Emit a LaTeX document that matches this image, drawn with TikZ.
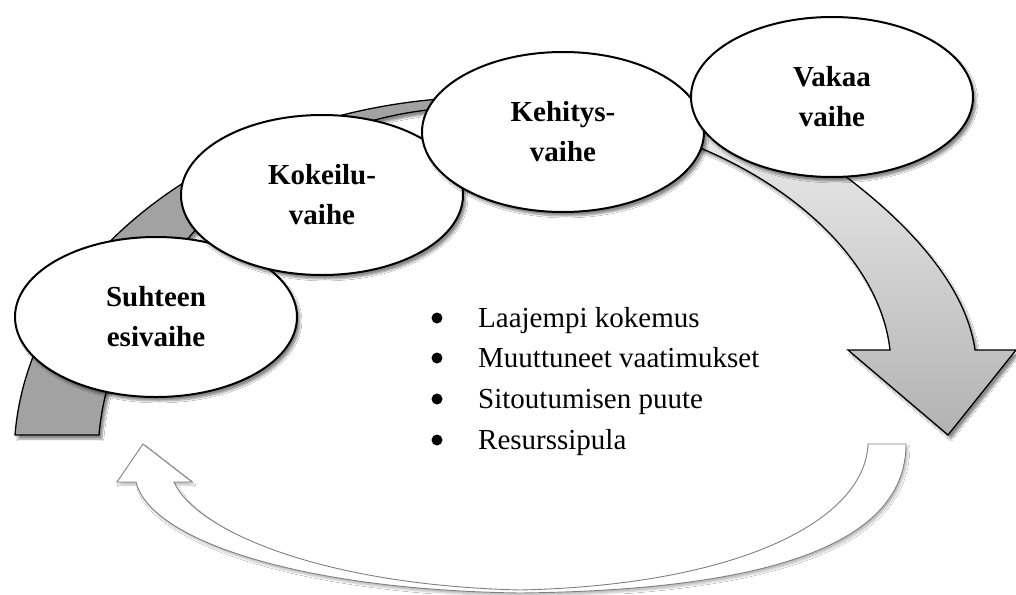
\documentclass[tikz,border=0pt]{standalone}
\usepackage{fontspec}
\setmainfont{Liberation Serif}
\usetikzlibrary{shapes.geometric,shadows.blur}
\definecolor{bandgray}{RGB}{162,162,162}
\definecolor{arrowtop}{RGB}{236,236,236}
\definecolor{arrowbot}{RGB}{178,178,178}
\definecolor{lineg}{RGB}{128,128,128}
\begin{document}
\begin{tikzpicture}[x=1pt,y=-1pt,
  softshadow/.style={blur shadow={shadow xshift=3pt, shadow yshift=-4pt, shadow blur steps=6, shadow opacity=45}},
  phase/.style={ellipse, draw=black, line width=2pt, fill=white,
    minimum width=282pt, minimum height=160pt, inner sep=0pt, align=center,
    font=\fontsize{29}{40}\selectfont\bfseries, softshadow},
  item/.style={anchor=base west, inner sep=0pt, font=\fontsize{29}{40}\selectfont},
  dot/.style={circle, fill=black, inner sep=0pt, minimum size=11pt},
  band/.style={draw=black, line width=1.3pt, fill=bandgray, softshadow},
  bigarrow/.style={draw=black, line width=1.3pt, top color=arrowtop, bottom color=arrowbot, softshadow},
  returnarrow/.style={draw=lineg, line width=0.9pt, fill=white,
    blur shadow={shadow xshift=2pt, shadow yshift=-3pt, shadow blur steps=5, shadow opacity=25}}
]
\fill[white] (0,0) rectangle (1016,594);
\useasboundingbox (0,0) rectangle (1016,594);

% dark gray band rising from bottom left
\path[band] (15,435) .. controls (30,250) and (230,110) .. (455,98)
  -- (450,108) .. controls (240,120) and (110,300) .. (99,435) -- cycle;

% big light arrow going down on the right
\path[bigarrow] (680,140) .. controls (790,180) and (880,260) .. (890,350)
  -- (848,350) -- (948,435) -- (1016,350) -- (975,350)
  .. controls (965,280) and (900,215) .. (830,165) -- (700,120) -- cycle;

% return arrow at the bottom
\path[returnarrow] (868,444) -- (906,444)
  .. controls (906,540) and (780,590) .. (520,593)
  .. controls (300,590) and (150,540) .. (136,482)
  -- (117,482) -- (143,444) -- (192,482) -- (174,482)
  .. controls (195,530) and (320,585) .. (520,590)
  .. controls (740,585) and (865,520) .. (868,444) -- cycle;

% phases
\node[phase] (suhteen) at (156,317) {Suhteen\\esivaihe};
\node[phase] (kokeilu) at (322,195) {Kokeilu-\\vaihe};
\node[phase] (kehitys) at (563,132) {Kehitys-\\vaihe};
\node[phase] (vakaa) at (832,97) {Vakaa\\vaihe};

% bullet list
\node[dot] (d1) at (437,318) {};
\node[item] (b1) at (478,327) {Laajempi kokemus};
\node[dot] (d2) at (437,358) {};
\node[item] (b2) at (478,367) {Muuttuneet vaatimukset};
\node[dot] (d3) at (437,399) {};
\node[item] (b3) at (478,408) {Sitoutumisen puute};
\node[dot] (d4) at (437,440) {};
\node[item] (b4) at (478,449) {Resurssipula};
\end{tikzpicture}
\end{document}
